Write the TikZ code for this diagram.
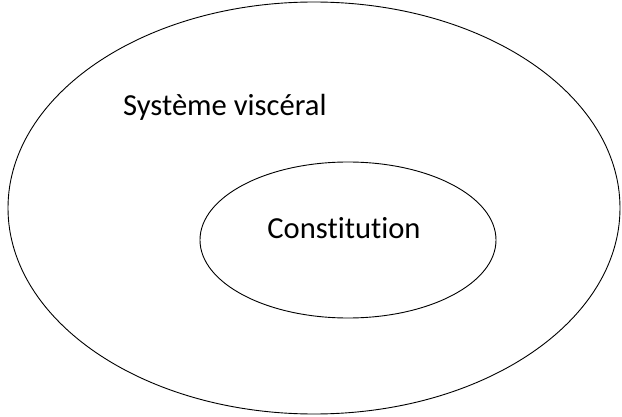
\documentclass[tikz,border=0pt]{standalone}
\usepackage{fontspec}
\setmainfont[Ligatures={NoCommon}]{Carlito}
\usetikzlibrary{shapes.geometric}
\begin{document}
\begin{tikzpicture}[x=1pt,y=1pt,
  ring/.style={draw=black,line width=0.9pt,ellipse,inner sep=0pt},
  lbl/.style={inner sep=0pt,font=\fontsize{30.6}{36}\selectfont}]
\useasboundingbox (0,0) rectangle (622,416);
\node[ring,minimum width=612pt,minimum height=412pt] (outer) at (314,208) {};
\node[ring,minimum width=296pt,minimum height=156pt] (inner) at (348,176) {};
\node[lbl,anchor=base west] (sv) at (123,300) {Système viscéral};
\node[lbl,anchor=base] (co) at (344,178) {Constitution};
\end{tikzpicture}
\end{document}
